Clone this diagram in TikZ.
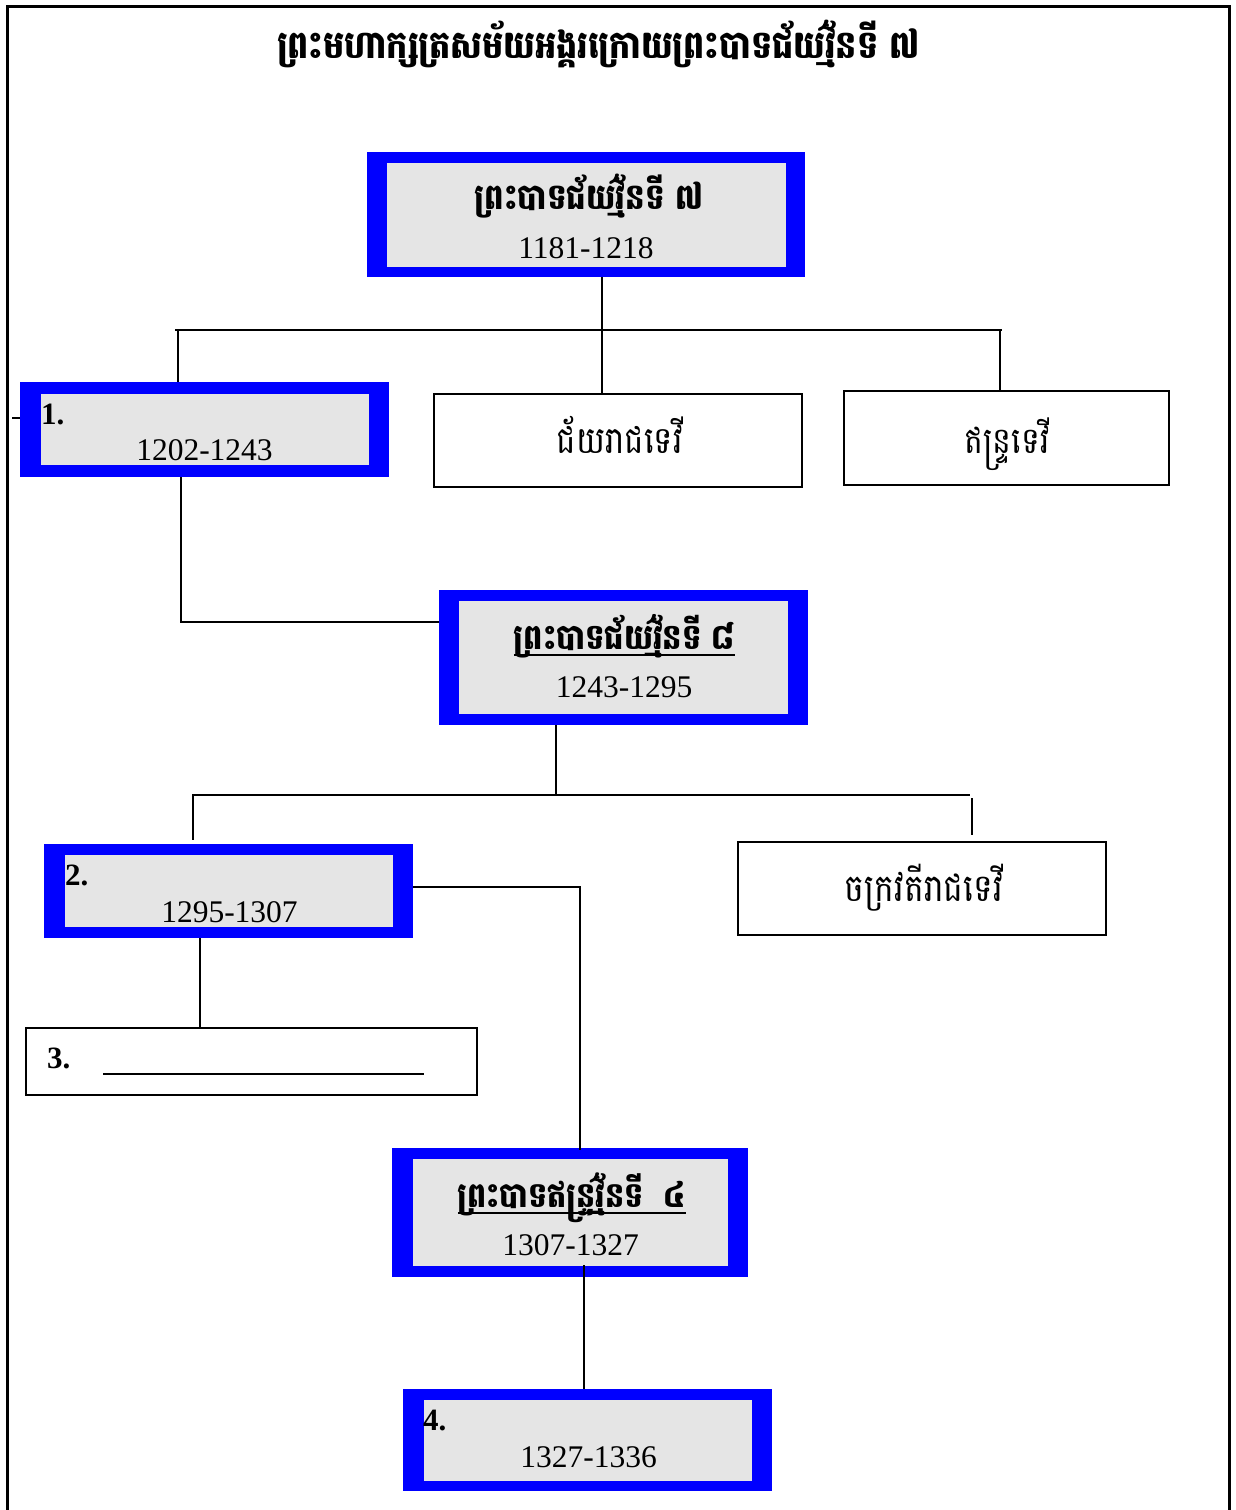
\documentclass[tikz,border=0pt]{standalone}
\usepackage{fontspec}
\usepackage{graphicx}
\setmainfont{Liberation Serif}
\newfontfamily\khmer[Script=Khmer]{Battambang}
\definecolor{boxgray}{HTML}{E5E5E5}
\newcommand\khfit[2]{\resizebox{#1}{!}{\scalebox{1}[1.15]{#2}}}
\begin{document}
\begin{tikzpicture}[x=1pt,y=-1pt,
  outerbox/.style={fill=blue, draw=none, inner sep=0pt},
  innerbox/.style={fill=boxgray, draw=none, inner sep=0pt},
  plainbox/.style={draw=black, line width=1.6pt, fill=white, inner sep=0pt},
  conn/.style={draw=black, line width=1.6pt},
  frame/.style={draw=black, line width=3pt},
  num/.style={font=\fontsize{31.5}{32}\selectfont, inner sep=0pt, anchor=base},
  bnum/.style={font=\fontsize{31}{32}\selectfont\bfseries, inner sep=0pt, anchor=base west},
  kh/.style={inner sep=0pt, anchor=base},
  uline/.style={draw=black, line width=1.5pt}]
\useasboundingbox (0,0) rectangle (1236,1510);
\fill[white] (0,0) rectangle (1236,1510);
\draw[frame] (7,1515) -- (7,6) -- (1229,6) -- (1229,1515);

% title
\node[kh] (title) at (598.5,58) {\khfit{643pt}{\khmer\bfseries ព្រះមហាក្សត្រសម័យអង្គរក្រោយព្រះបាទជ័យវ៌្ម័នទី ៧}};

% boxes
\node[outerbox, minimum width=438pt, minimum height=125pt] (kA) at (586,214.5) {};
\node[innerbox, minimum width=399pt, minimum height=104pt] (kAi) at (586.5,215) {};
\node[kh] (kAt) at (589,209) {\khfit{228pt}{\khmer\bfseries ព្រះបាទជ័យវ៌្ម័នទី ៧}};
\node[num] (kAn) at (586,258) {1181-1218};

\node[outerbox, minimum width=369pt, minimum height=95pt] (b1) at (204.5,429.5) {};
\node[innerbox, minimum width=328pt, minimum height=71pt] (b1i) at (205,429.5) {};
\node[bnum] (b1l) at (41,424) {1.};
\node[num] (b1n) at (204.5,460) {1202-1243};

\node[plainbox, minimum width=368pt, minimum height=93pt] (jaya) at (618,440.5) {};
\node[kh] (jayat) at (620,453) {\khfit{126pt}{\khmer ជ័យរាជទេវី}};

\node[plainbox, minimum width=325pt, minimum height=94pt] (indra) at (1006.5,438) {};
\node[kh] (indrat) at (1007,453) {\khfit{85pt}{\khmer ឥន្ទ្រទេវី}};

\node[outerbox, minimum width=369pt, minimum height=135pt] (k8) at (623.5,657.5) {};
\node[innerbox, minimum width=329pt, minimum height=113pt] (k8i) at (623.5,657.5) {};
\node[kh] (k8t) at (624.5,649) {\khfit{221pt}{\khmer\bfseries ព្រះបាទជ័យវ៌្ម័នទី ៨}};
\draw[uline] ([yshift=-6pt]k8t.base west) -- ([yshift=-6pt]k8t.base east);
\node[num] (k8n) at (624,697) {1243-1295};

\node[outerbox, minimum width=369pt, minimum height=94pt] (b2) at (228.5,891) {};
\node[innerbox, minimum width=328pt, minimum height=72pt] (b2i) at (229,891) {};
\node[bnum] (b2l) at (65,885) {2.};
\node[num] (b2n) at (229.5,922) {1295-1307};

\node[plainbox, minimum width=368pt, minimum height=93pt] (chak) at (922,888.5) {};
\node[kh] (chakt) at (924,901) {\khfit{158pt}{\khmer ចក្រវតីរាជទេវី}};

\node[plainbox, minimum width=451pt, minimum height=67pt] (b3) at (251.5,1061.5) {};
\node[bnum] (b3l) at (47,1068) {3.};
\coordinate (b3a) at (103,1074);
\coordinate (b3b) at (424,1074);
\draw[uline] (b3a) -- (b3b);

\node[outerbox, minimum width=356pt, minimum height=129pt] (ki) at (570,1212.5) {};
\node[innerbox, minimum width=315pt, minimum height=107pt] (kii) at (570.5,1212.5) {};
\node[kh] (kit) at (572,1207) {\khfit{228pt}{\khmer\bfseries ព្រះបាទឥន្ទ្រវ៌្ម័នទី\ \ ៤}};
\draw[uline] ([yshift=-6pt]kit.base west) -- ([yshift=-6pt]kit.base east);
\node[num] (kin) at (570.5,1255) {1307-1327};

\node[outerbox, minimum width=369pt, minimum height=102pt] (b4) at (587.5,1440) {};
\node[innerbox, minimum width=328pt, minimum height=81pt] (b4i) at (588,1440.5) {};
\node[bnum] (b4l) at (423,1430) {4.};
\node[num] (b4n) at (588.5,1467) {1327-1336};

% connectors
\coordinate (busAL) at (175,330);
\coordinate (busAR) at (1002,330);
\coordinate (busA) at (602,330);
\coordinate (dA1) at (178,330);
\coordinate (dA3) at (1000,330);
\draw[conn] (kA.south -| busA) -- (busA);
\draw[conn] (busAL) -- (busAR);
\draw[conn] (dA1) -- (dA1 |- b1.north);
\draw[conn] (busA) -- (busA |- jaya.north);
\draw[conn] (dA3) -- (dA3 |- indra.north);

\coordinate (t1) at (12,418);
\draw[conn] (t1) -- (t1 -| b1.west);

\coordinate (e1) at (181,622);
\draw[conn] (b1.south -| e1) -- (e1) -- (e1 -| k8.west);

\coordinate (bus8) at (556,795);
\coordinate (bus8L) at (192,795);
\coordinate (bus8R) at (970,795);
\coordinate (d81) at (193,795);
\coordinate (d82) at (972,798);
\draw[conn] (k8.south -| bus8) -- (bus8);
\draw[conn] (bus8L) -- (bus8R);
\draw[conn] (d81) -- ([yshift=4pt]d81 |- b2.north);
\draw[conn] (d82) -- ([yshift=6pt]d82 |- chak.north);

\coordinate (e2) at (580,887);
\draw[conn] (b2.east |- e2) -- (e2) -- ([yshift=-2pt]e2 |- ki.north);

\coordinate (e3) at (200,950);
\draw[conn] (b2.south -| e3) -- (e3 |- b3.north);

\coordinate (e4) at (584,1265);
\draw[conn] (e4) -- (e4 |- b4.north);
\end{tikzpicture}
\end{document}
